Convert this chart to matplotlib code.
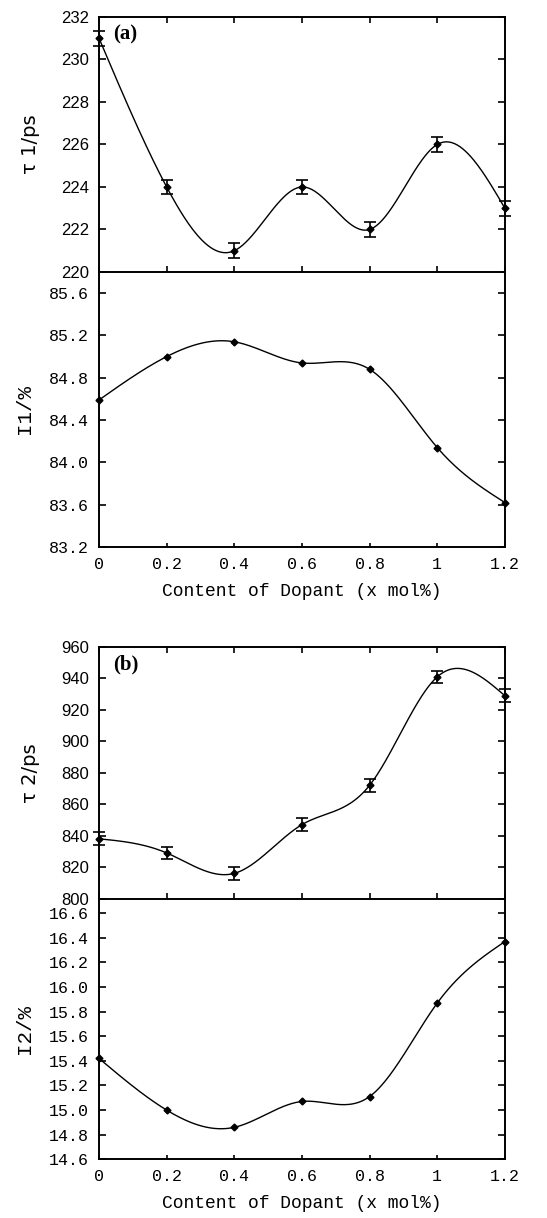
import numpy as np
import matplotlib
matplotlib.use("Agg")
import matplotlib.pyplot as plt

# data
x = [0, 0.2, 0.4, 0.6, 0.8, 1.0, 1.2]
tau1 = [231, 224, 221, 224, 222, 226, 223]
tau1_err = [0.35, 0.35, 0.35, 0.35, 0.35, 0.35, 0.35]
I1 = [84.59, 85.00, 85.14, 84.94, 84.88, 84.14, 83.62]
tau2 = [838, 829, 816, 847, 872, 941, 929]
tau2_err = [4, 4, 4, 4, 4, 4, 4]
I2 = [15.42, 15.00, 14.86, 15.07, 15.11, 15.87, 16.37]

xticks = [0, 0.2, 0.4, 0.6, 0.8, 1.0, 1.2]
xticklabels = ["0", "0.2", "0.4", "0.6", "0.8", "1", "1.2"]
tau1_ticks = [220, 222, 224, 226, 228, 230, 232]
I1_ticks = [83.2, 83.6, 84.0, 84.4, 84.8, 85.2, 85.6]
tau2_ticks = [800, 820, 840, 860, 880, 900, 920, 940, 960]
I2_ticks = [14.6, 14.8, 15.0, 15.2, 15.4, 15.6, 15.8, 16.0, 16.2, 16.4, 16.6]

MONO = "Liberation Mono"
SANS = "Liberation Sans"


def spline(xs, ys, n=300):
    # natural cubic spline through the points, for drawing the smooth line
    xs = np.asarray(xs, float)
    ys = np.asarray(ys, float)
    k = len(xs)
    h = np.diff(xs)
    A = np.zeros((k, k))
    b = np.zeros(k)
    A[0, 0] = A[-1, -1] = 1
    for i in range(1, k - 1):
        A[i, i - 1] = h[i - 1]
        A[i, i] = 2 * (h[i - 1] + h[i])
        A[i, i + 1] = h[i]
        b[i] = 3 * ((ys[i + 1] - ys[i]) / h[i] - (ys[i] - ys[i - 1]) / h[i - 1])
    c = np.linalg.solve(A, b)
    xx = np.linspace(xs[0], xs[-1], n)
    idx = np.clip(np.searchsorted(xs, xx) - 1, 0, k - 2)
    dx = xx - xs[idx]
    hi = h[idx]
    bb = (ys[idx + 1] - ys[idx]) / hi - hi * (2 * c[idx] + c[idx + 1]) / 3
    dd = (c[idx + 1] - c[idx]) / (3 * hi)
    yy = ys[idx] + bb * dx + c[idx] * dx ** 2 + dd * dx ** 3
    return xx, yy


def style(ax, top):
    for s in ax.spines.values():
        s.set_linewidth(1.4)
    ax.set_xlim(0, 1.2)
    ax.set_xticks(xticks)
    if top:
        ax.tick_params(axis="x", which="both", direction="in", length=4,
                       top=True, bottom=True, labelbottom=False, width=1.2)
    else:
        ax.tick_params(axis="x", direction="in", length=3, top=False,
                       bottom=True, width=1.2, pad=7)
        ax.set_xticklabels(xticklabels, fontfamily=MONO, fontsize=12)
    ax.tick_params(axis="y", direction="in", length=5, left=True, right=True,
                   width=1.2, pad=7)


fig = plt.figure(figsize=(5.47, 12.18), dpi=100)
L, W = 0.181, 0.742

panels = [
    (0.7767, 0.2094, 0.5509, tau1, tau1_err, I1, tau1_ticks, I1_ticks,
     (220, 232), (83.2, 85.8), "τ 1/ps", "I1/%", "(a)", "%d", "%.1f"),
    (0.2623, 0.2065, 0.0482, tau2, tau2_err, I2, tau2_ticks, I2_ticks,
     (800, 960), (14.6, 16.72), "τ 2/ps", "I2/%", "(b)", "%d", "%.1f"),
]

for (mid, htop, bot, tv, te, iv, tt, it, tl, il, tlab, ilab, tag, f1, f2) in panels:
    ax2 = fig.add_axes([L, bot, W, mid - bot])
    ax1 = fig.add_axes([L, mid, W, htop])
    ax2.set_facecolor("none")
    ax1.set_facecolor("none")

    xx, yy = spline(x, tv)
    ax1.plot(xx, yy, color="black", lw=1.0, clip_on=False)
    ax1.errorbar(x, tv, yerr=te, fmt="D", color="black", ms=3.5, capsize=4,
                 elinewidth=1.2, capthick=1.2, clip_on=False, zorder=3)
    ax1.set_ylim(*tl)
    ax1.set_yticks(tt)
    ax1.set_yticklabels([f1 % v for v in tt], fontfamily=SANS, fontsize=12)
    ax1.set_ylabel(tlab, fontfamily="DejaVu Sans", fontsize=14)
    ax1.text(0.035, 0.93, tag, transform=ax1.transAxes, fontfamily="Liberation Serif",
             fontweight="bold", fontsize=15, ha="left", va="center")
    style(ax1, True)

    xx, yy = spline(x, iv)
    ax2.plot(xx, yy, color="black", lw=1.0, clip_on=False)
    ax2.plot(x, iv, "D", color="black", ms=3.5, clip_on=False, zorder=3)
    ax2.set_ylim(*il)
    ax2.set_yticks(it)
    ax2.set_yticklabels([f2 % v for v in it], fontfamily=MONO, fontsize=12)
    ax2.set_ylabel(ilab, fontfamily=MONO, fontsize=15)
    ax2.set_xlabel("Content of Dopant (x mol%)", fontfamily=MONO, fontsize=13,
                   labelpad=8)
    ax2.spines["top"].set_visible(False)
    style(ax2, False)

    ax1.yaxis.set_label_coords(-0.145, 0.5)
    ax2.yaxis.set_label_coords(-0.16, 0.5)

fig.savefig("out.png", dpi=100)
